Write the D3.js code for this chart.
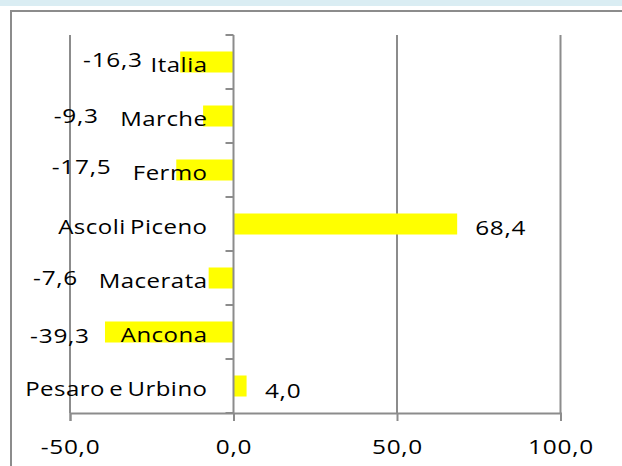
<!DOCTYPE html>
<html>
<head>
<meta charset="utf-8">
<script src="https://cdn.jsdelivr.net/npm/d3@7/dist/d3.min.js"></script>
<style>
  html, body { margin: 0; padding: 0; background: #fff; }
  svg { display: block; }
  text { font-family: "Open Sans", Lato, sans-serif; fill: #000; }
</style>
</head>
<body>
<svg id="chart" width="622" height="466"></svg>
<script>
// ---- data ----
const categories = ["Italia", "Marche", "Fermo", "Ascoli Piceno", "Macerata", "Ancona", "Pesaro e Urbino"];
const values = [-16.3, -9.3, -17.5, 68.4, -7.6, -39.3, 4.0];
const valueLabels = ["-16,3", "-9,3", "-17,5", "68,4", "-7,6", "-39,3", "4,0"];
const xTicks = [-50, 0, 50, 100];
const xTickLabels = ["-50,0", "0,0", "50,0", "100,0"];
// manually placed data labels in the original (start of label, in axis units) and vertical nudge
const labelAnchor = [-46.0, -55.0, -55.6, 73.9, -61.3, -62.2, 9.6];
const labelNudge = [-2, 0, -3.5, 4, 0, 4, 5];

const svg = d3.select("#chart");
const W = 622, H = 466;
const plot = { left: 70, right: 560.5, top: 35, bottom: 413 };
const gridColor = "#8c8c8c";
const fontSize = "19.5px";
const numScale = 1.25, catScale = 1.23;

// background band at top + frame
svg.append("rect").attr("x", 0).attr("y", 0).attr("width", W).attr("height", 6).attr("fill", "#daedf3");
svg.append("path")
  .attr("d", `M11,${H} L11,11 L${W},11`)
  .attr("fill", "none").attr("stroke", gridColor).attr("stroke-width", 2);

const x = d3.scaleLinear().domain([-50, 100]).range([plot.left, plot.right]);
const y = d3.scaleBand().domain(categories).range([plot.top, plot.bottom])
  .paddingInner(0.611).paddingOuter(0.3055);

// vertical gridlines
svg.append("g").selectAll("line").data(xTicks.filter(t => t !== 0)).join("line")
  .attr("x1", d => x(d)).attr("x2", d => x(d))
  .attr("y1", plot.top).attr("y2", plot.bottom)
  .attr("stroke", gridColor).attr("stroke-width", 2);

// bars
svg.append("g").selectAll("rect").data(values).join("rect")
  .attr("x", d => Math.min(x(d), x(0)))
  .attr("width", d => Math.abs(x(d) - x(0)))
  .attr("y", (d, i) => y(categories[i]))
  .attr("height", y.bandwidth())
  .attr("fill", "#ffff00");

// bottom axis
const xAxis = d3.axisBottom(x).tickValues(xTicks).tickSize(8).tickFormat((d, i) => xTickLabels[i]);
const gx = svg.append("g").attr("transform", `translate(0,${plot.bottom})`).call(xAxis);
gx.select(".domain").attr("stroke", gridColor).attr("stroke-width", 2);
gx.selectAll(".tick line").attr("stroke", gridColor).attr("stroke-width", 2);
gx.selectAll(".tick text")
  .attr("y", 0).attr("dy", 0)
  .attr("transform", `translate(0,41) scale(${numScale},1)`)
  .style("font-family", "'Open Sans', Lato, sans-serif")
  .style("font-size", fontSize).style("letter-spacing", "0.6px").attr("fill", "#000");

// vertical category axis at zero
const boundaries = d3.range(categories.length + 1).map(i => plot.top + i * y.step());
const gy = svg.append("g");
gy.append("line").attr("x1", x(0)).attr("x2", x(0)).attr("y1", plot.top).attr("y2", plot.bottom)
  .attr("stroke", gridColor).attr("stroke-width", 2);
gy.selectAll("line.tk").data(boundaries).join("line").attr("class", "tk")
  .attr("x1", x(0) - 8).attr("x2", x(0)).attr("y1", d => d).attr("y2", d => d)
  .attr("stroke", gridColor).attr("stroke-width", 2);

// category labels
svg.append("g").selectAll("text").data(categories).join("text")
  .attr("transform", d => `translate(${x(0) - 26},${y(d) + y.bandwidth() / 2 + 9.5}) scale(${catScale},1)`)
  .attr("text-anchor", "end")
  .style("font-size", fontSize).style("word-spacing", "-2px").style("letter-spacing", "0.4px")
  .text(d => d);

// value labels
svg.append("g").selectAll("text").data(valueLabels).join("text")
  .attr("transform", (d, i) => `translate(${x(labelAnchor[i])},${y(categories[i]) + y.bandwidth() / 2 + 7 + labelNudge[i]}) scale(${numScale},1)`)
  .attr("text-anchor", "start")
  .style("font-size", fontSize).style("letter-spacing", "0.6px")
  .text(d => d);
</script>
</body>
</html>
